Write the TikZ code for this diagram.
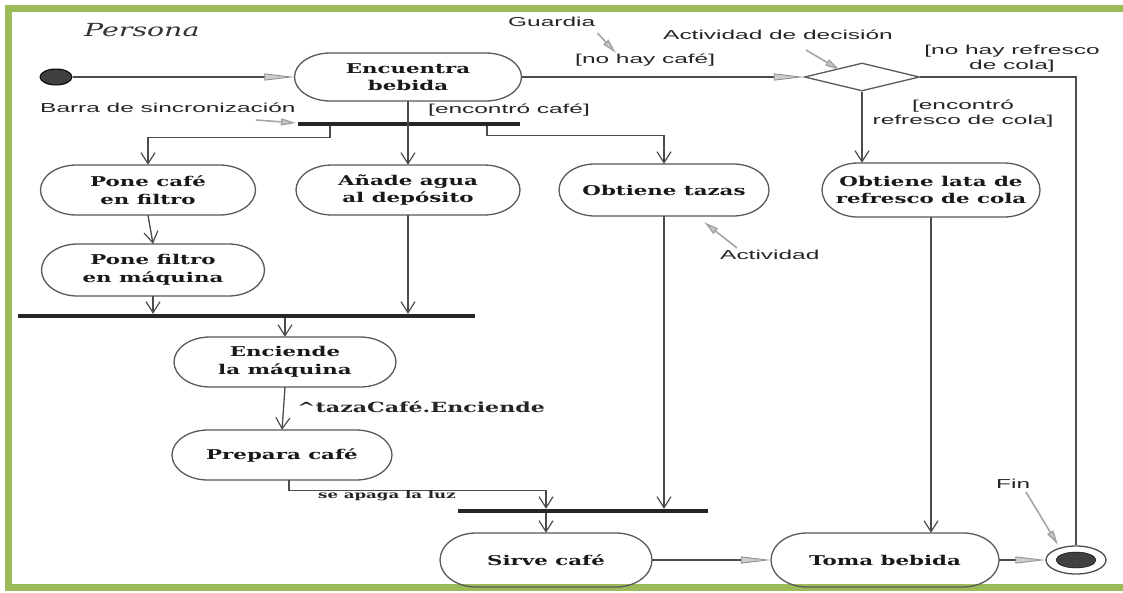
\documentclass[tikz,border=0pt]{standalone}
\usepackage{fontspec}
\usetikzlibrary{arrows.meta,shapes.geometric}
\newfontfamily\actfont{DejaVu Serif}[FakeStretch=1.58]
\newfontfamily\lblfont{Liberation Sans}[FakeStretch=1.88]
\definecolor{framegreen}{HTML}{9BBB59}
\newcommand\actrad{36}
% activity: name, cx, cy, width, height, text
\newcommand{\actnode}[6]{%
  \node[act, minimum width=#4pt, minimum height=#5pt] (#1) at (#2,#3) {#6};
  \draw[outl] ({#2-#4/2+\actrad},{#3-#5/2}) -- ({#2+#4/2-\actrad},{#3-#5/2})
    arc[start angle=-90, end angle=90, x radius=\actrad, y radius=#5/2]
    -- ({#2-#4/2+\actrad},{#3+#5/2})
    arc[start angle=90, end angle=270, x radius=\actrad, y radius=#5/2] -- cycle;}
\begin{document}
\begin{tikzpicture}[x=1pt,y=-1pt,
  act/.style={rectangle, inner sep=0pt, align=center, text=black!90,
    font=\actfont\bfseries\fontsize{13.5}{17.5}\selectfont},
  outl/.style={draw=black!65, line width=1.3pt},
  ln/.style={draw=black!70, line width=1.3pt},
  va/.style={-{Straight Barb[length=11pt,width=14pt,line width=1.2pt]}},
  gt/.style={-{Triangle[length=30pt,width=7pt,color=black!45,fill=black!20,line width=0.8pt]}},
  ann/.style={draw=black!35, line width=1.6pt,
    -{Triangle[length=15pt,width=7pt,color=black!35,fill=black!20]}},
  bar/.style={fill=black!85, inner sep=0pt, minimum height=4pt},
  lbl/.style={font=\lblfont\fontsize{13}{15}\selectfont, text=black!85, inner sep=0pt},
  ser/.style={font=\actfont\bfseries\fontsize{14}{16}\selectfont, text=black!85, inner sep=0pt}]

\useasboundingbox (0,0) rectangle (1123,592);
\fill[white] (0,0) rectangle (1123,592);
% frame
\draw[framegreen, line width=7pt] (1123,8.5) -- (8.5,8.5) -- (8.5,587) -- (1123,587);

% title
\node[anchor=west, inner sep=0pt, text=black!80,
  font=\actfont\itshape\fontsize{18}{20}\selectfont] (persona) at (84,30) {Persona};

% initial and final states
\node[ellipse, fill=black!75, draw=black, line width=1pt, minimum width=32pt,
  minimum height=16pt, inner sep=0pt] (start) at (56,77) {};
\node[ellipse, draw=black!70, line width=1.3pt, minimum width=60pt,
  minimum height=28pt, inner sep=0pt] (fin) at (1076,560) {};
\node[ellipse, fill=black!75, draw=black, minimum width=40pt,
  minimum height=16pt, inner sep=0pt] (fincore) at (fin) {};

% activities
\actnode{enc}{408}{77}{227}{48}{Encuentra\\bebida}
\actnode{pcf}{148}{190}{215}{50}{Pone café\\en filtro}
\actnode{ana}{408}{190}{224}{50}{Añade agua\\al depósito}
\actnode{obt}{664}{190}{210}{52}{Obtiene tazas}
\actnode{lat}{931}{190}{218}{54}{Obtiene lata de\\refresco de cola}
\actnode{pfm}{153}{270}{223}{52}{Pone filtro\\en máquina}
\actnode{eml}{285}{362}{222}{50}{Enciende\\la máquina}
\actnode{pre}{282}{455}{220}{50}{Prepara café}
\actnode{sir}{546}{560}{212}{54}{Sirve café}
\actnode{tom}{885}{560}{228}{54}{Toma bebida}

% decision
\node[diamond, draw=black!65, line width=1.3pt, aspect=4, minimum width=115pt,
  minimum height=28pt, inner sep=0pt] (dec) at (862,77) {};

% synchronisation bars
\node[bar, minimum width=222pt] (bar1) at (409,124) {};
\node[bar, minimum width=457pt] (bar2) at (246,316) {};
\node[bar, minimum width=250pt] (bar3) at (583,511) {};

% flows
\draw[ln, gt] (start.east) -- (enc.west);
\draw[ln, gt] (enc.east) -- (dec.west);
\draw[ln] (dec.east) -| (fin.north);
\draw[ln, va] (dec.south) -- (dec.south |- lat.north);
\draw[ln, va] (enc.south) -- (ana.north);
\draw[ln, va] ([xshift=-79pt]bar1.south) -- ++(0,11) -| (pcf.north);
\draw[ln, va] ([xshift=78pt]bar1.south) -- ++(0,9) -| (obt.north);
\draw[ln, va] (pcf.south) -- (pfm.north);
\draw[ln, va] (pfm.south) -- (pfm.south |- bar2.north);
\draw[ln, va] (ana.south) -- (ana.south |- bar2.north);
\draw[ln, va] (bar2.south -| eml.north) -- (eml.north);
\draw[ln, va] (eml.south) -- (pre.north);
\draw[ln, va] ([xshift=7pt]pre.south) -- ++(0,10) -| (bar3.north -| sir.north);
\draw[ln, va] (obt.south) -- (obt.south |- bar3.north);
\draw[ln, va] (bar3.south -| sir.north) -- (sir.north);
\draw[ln, va] (lat.south) -- (lat.south |- tom.north);
\draw[ln, gt] (sir.east) -- (tom.west);
\draw[ln, gt] (tom.east) -- (fin.west);

% labels
\node[lbl, anchor=west] (lguard) at (508,22) {Guardia};
\node[lbl, anchor=west] (lnocafe) at (575,60) {[no hay café]};
\node[lbl, anchor=west] (ldec) at (663,35) {Actividad de decisión};
\node[lbl, align=center] (lnocola) at (1012,59) {[no hay refresco\\de cola]};
\node[lbl, align=center] (lcola) at (963,114) {[encontró\\refresco de cola]};
\node[lbl, anchor=west] (lcafe) at (428,110) {[encontró café]};
\node[lbl, anchor=west] (lbar) at (40,108) {Barra de sincronización};
\node[ser, anchor=west] (lsig) at (297,407) {\textasciicircum tazaCafé.Enciende};
\node[ser, anchor=west, font=\actfont\bfseries\fontsize{10.5}{12}\selectfont] (lluz) at (318,496) {se apaga la luz};
\node[lbl, anchor=west] (lact) at (720,255) {Actividad};
\node[lbl, anchor=west] (lfin) at (996,484) {Fin};

% annotation pointers
\coordinate (ga) at (616,53);
\coordinate (da0) at (806,50);
\coordinate (da1) at (840,70);
\coordinate (ba0) at (256,120);
\coordinate (ba1) at (296,123);
\coordinate (aa0) at (737,248);
\coordinate (aa1) at (704,222);
\coordinate (fa0) at (1026,492);
\coordinate (fa1) at (1058,545);
\draw[ann] ([shift={(2,6)}]lguard.south east) -- (ga);
\draw[ann] (da0) -- (da1);
\draw[ann] (ba0) -- (ba1);
\draw[ann] (aa0) -- (aa1);
\draw[ann] (fa0) -- (fa1);
\end{tikzpicture}
\end{document}
